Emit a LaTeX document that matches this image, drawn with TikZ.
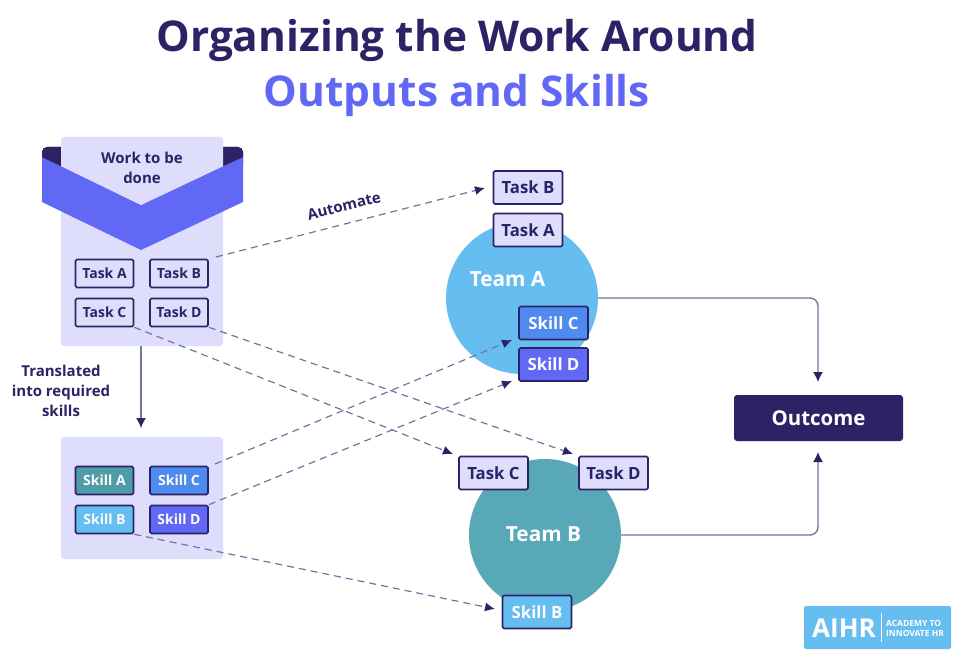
\documentclass[tikz,border=0pt]{standalone}
\usepackage{fontspec}
\setmainfont{Open Sans}
\usetikzlibrary{arrows.meta}
\definecolor{navy}{HTML}{2C2266}
\definecolor{violet}{HTML}{6068F5}
\definecolor{lilac}{HTML}{DEDDFB}
\definecolor{sky}{HTML}{66BDF0}
\definecolor{teamteal}{HTML}{58A8B8}
\definecolor{tealdark}{HTML}{4F9CA6}
\definecolor{skillblue}{HTML}{4F8AEE}
\definecolor{linegray}{HTML}{77739F}
\tikzset{
  every node/.style={font=\bfseries},
  box/.style={rectangle,rounded corners=1.5pt,draw=navy,line width=1.6pt,inner sep=0pt,align=center},
  smalltask/.style={box,fill=lilac,text=navy,minimum width=58pt,minimum height=28pt,font=\fontsize{14}{16}\selectfont\bfseries},
  smallskill/.style={box,text=white!92!lilac,minimum width=58pt,minimum height=28pt,font=\fontsize{14}{16}\selectfont\bfseries},
  bigtask/.style={box,fill=lilac,text=navy,minimum width=69pt,minimum height=33pt,font=\fontsize{16.8}{18}\selectfont\bfseries},
  bigskill/.style={box,text=white!92!lilac,minimum width=69pt,minimum height=33pt,font=\fontsize{16.8}{18}\selectfont\bfseries},
  panel/.style={rectangle,rounded corners=3pt,fill=lilac,inner sep=0pt},
  team/.style={circle,inner sep=0pt,minimum size=152pt},
  dashlink/.style={draw=linegray,line width=1.2pt,dash pattern=on 7pt off 5pt,-{Latex[length=10pt,width=9pt,color=navy]}},
  solidarrow/.style={draw=linegray,line width=1.4pt,rounded corners=8pt,-{Latex[length=10pt,width=10pt,color=navy]}},
  note/.style={text=navy,align=center,font=\fontsize{15}{20}\selectfont\bfseries},
}
\begin{document}
\begin{tikzpicture}[x=1pt,y=-1pt]
\useasboundingbox (0,0) rectangle (959,658);
\fill[white] (0,0) rectangle (959,658);
% title
\node (t1) at (457,40) [text=navy,font=\fontsize{42.4}{48}\selectfont\bfseries] {Organizing the Work Around};
\node (t2) at (457,95) [text=violet,font=\fontsize{42.4}{48}\selectfont\bfseries] {Outputs and Skills};
% top panel and ribbon
\fill[navy,rounded corners=5pt] (42,170) -- (42,147) -- (243,147) -- (243,170) -- cycle;
\node (p1) at (142,241.5) [panel,minimum width=162pt,minimum height=209pt] {};
\fill[violet] (42,157) -- (141,205) -- (243,157) -- (243,202) -- (141,250) -- (42,202) -- cycle;
\fill[navy] (42,157) -- (61,166) -- (61,147) -- (47,147) to[out=180,in=90] (42,152) -- cycle;
\fill[navy] (243,157) -- (223,166) -- (223,147) -- (238,147) to[out=0,in=90] (243,152) -- cycle;
\fill[lilac] (61,166) -- (141,205) -- (223,166) -- (223,145) -- (61,145) -- cycle;
\node (work) at (142,167.5) [note] {Work to be\\done};
\node (ta) at (104.5,273.5) [smalltask] {Task A};
\node (tb) at (179,273.5) [smalltask] {Task B};
\node (tc) at (104.5,312.5) [smalltask] {Task C};
\node (td) at (179,312.5) [smalltask] {Task D};
% lower panel
\node (p2) at (142,498) [panel,minimum width=162pt,minimum height=122pt] {};
\node (sa) at (104.5,480.5) [smallskill,fill=tealdark] {Skill A};
\node (sc) at (179,480.5) [smallskill,fill=skillblue] {Skill C};
\node (sb) at (104.5,519.5) [smallskill,fill=sky] {Skill B};
\node (sd) at (179,519.5) [smallskill,fill=violet] {Skill D};
% teams
\node (teamA) at (522,298) [team,fill=sky] {};
\node (teamB) at (545,535) [team,fill=teamteal] {};
\node (teamAl) at (507.5,279) [text=white,font=\fontsize{20.8}{24}\selectfont\bfseries] {Team A};
\node (teamBl) at (543.5,534) [text=white,font=\fontsize{20.8}{24}\selectfont\bfseries] {Team B};
\node (tb2) at (528,187.5) [bigtask] {Task B};
\node (ta2) at (528,230) [bigtask] {Task A};
\node (sc2) at (553.5,323) [bigskill,fill=skillblue] {Skill C};
\node (sd2) at (553.5,364.5) [bigskill,fill=violet] {Skill D};
\node (tc2) at (493.5,473) [bigtask] {Task C};
\node (td2) at (613.5,473) [bigtask] {Task D};
\node (sb2) at (537,612) [bigskill,fill=sky] {Skill B};
% outcome
\node (out) at (818.5,418) [rectangle,rounded corners=3pt,fill=navy,text=white,minimum width=169pt,minimum height=46pt,inner sep=0pt,font=\fontsize{20.4}{22}\selectfont\bfseries] {Outcome};
% connectors
\coordinate (e1) at (485,188);
\coordinate (e2) at (453,454);
\coordinate (e3) at (573,454);
\coordinate (e4) at (512,340);
\coordinate (e5) at (512,381);
\coordinate (e6) at (495,609);
\coordinate (e7) at (141,428);
\coordinate (s1) at (216,257);
\coordinate (s4) at (215,464);
\coordinate (oa) at (818,382);
\coordinate (ob) at (818,452);
\draw[dashlink] (s1) -- (e1);
\draw[dashlink] (tc.south east) -- (e2);
\draw[dashlink] (td.south east) -- (e3);
\draw[dashlink] (s4) -- (e4);
\draw[dashlink] (sd.north east) -- (e5);
\draw[dashlink] (sb.south east) -- (e6);
\draw[solidarrow] (p1.south -| e7) -- (e7);
\draw[solidarrow] (teamA.east) -| (oa);
\draw[solidarrow] (teamB.east) -| (ob);
\node (auto) at (344,206) [rotate=14,text=navy,font=\fontsize{15}{17}\selectfont\bfseries] {Automate};
\node (trans) at (61,391) [note] {Translated\\into required\\skills};
% logo
\node (logo) at (877.5,627.5) [rectangle,rounded corners=2pt,fill=sky,minimum width=147pt,minimum height=43pt,inner sep=0pt] {};
\node (aihr) at (844,628) [text=white,font=\fontsize{26}{28}\selectfont\bfseries] {AIHR};
\draw[white,line width=1pt] (881,613) -- (881,642);
\node (acad) at (915,628) [text=white,align=left,font=\fontsize{8.5}{10}\selectfont\bfseries] {ACADEMY TO\\INNOVATE HR};
\end{tikzpicture}
\end{document}
